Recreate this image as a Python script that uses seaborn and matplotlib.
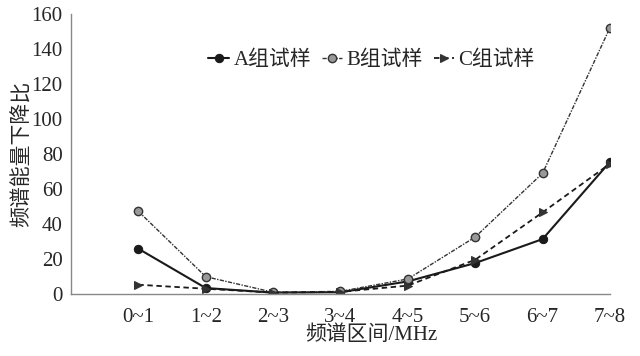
import matplotlib
matplotlib.use('Agg')
import matplotlib.pyplot as plt
import numpy as np
import pandas as pd
import seaborn as sns

# spectral bands and energy-drop ratio per sample group
bands = ['0~1', '1~2', '2~3', '3~4', '4~5', '5~6', '6~7', '7~8']
group_a = [25.9, 3.4, 0.8, 1.0, 7.2, 17.7, 31.4, 75.6]
group_b = [47.3, 9.9, 1.0, 1.5, 8.6, 32.6, 69.1, 152.4]
group_c = [5.3, 3.0, 0.8, 1.2, 4.8, 19.6, 46.7, 74.5]
labels = ['A组试样', 'B组试样', 'C组试样']

sns.set_style('white')
plt.rcParams['font.family'] = ['Liberation Serif', 'Noto Sans CJK SC']

pos = np.arange(1, len(bands) + 1)
df = pd.DataFrame({'pos': pos, 'A': group_a, 'B': group_b, 'C': group_c})

fig = plt.figure(figsize=(6.4, 3.56), dpi=100)
ax = fig.add_axes([0.1109, 0.1742, 0.8422, 0.7856])

sns.lineplot(data=df, x='pos', y='A', ax=ax, color='#1a1a1a', lw=1.5,
             marker='o', markersize=6, markerfacecolor='#1a1a1a',
             markeredgecolor='#1a1a1a', label=labels[0])
sns.lineplot(data=df, x='pos', y='B', ax=ax, color='#333333', lw=1.0,
             linestyle=(0, (3, 1, 1, 1)), marker='o', markersize=6,
             markerfacecolor='#999999', markeredgecolor='#333333',
             markeredgewidth=1.0, label=labels[1])
sns.lineplot(data=df, x='pos', y='C', ax=ax, color='#1a1a1a', lw=1.3,
             linestyle=(0, (3, 2)), marker='>', markersize=6,
             markerfacecolor='#333333', markeredgecolor='#333333',
             label=labels[2])

ax.set_xlim(0, 8)
ax.set_ylim(0, 160)
ax.set_xticks(pos)
ax.set_xticklabels(bands)
ax.set_yticks(np.arange(0, 161, 20))
sns.despine(ax=ax)
for s in ['left', 'bottom']:
    ax.spines[s].set_color('#888888')
    ax.spines[s].set_linewidth(1.0)
ax.tick_params(axis='x', direction='in', length=5, color='#888888',
               labelsize=15, pad=10)
ax.tick_params(axis='y', direction='out', length=4, color='#888888',
               labelsize=15, pad=2)

ax.set_xlabel('频谱区间/MHz', fontsize=15)
ax.set_ylabel('频谱能量下降比', fontsize=15)
ax.xaxis.label.set_va('center')
ax.yaxis.label.set_va('center')
ax.xaxis.set_label_coords(0.557, -0.146)
ax.yaxis.set_label_coords(-0.089, 0.5)

ax.legend(loc='center', bbox_to_anchor=(0.558, 0.835), ncol=3,
          frameon=False, fontsize=15, handlelength=1.0, handletextpad=0.2,
          columnspacing=0.5, borderpad=0)

fig.savefig('out.png', dpi=100)
